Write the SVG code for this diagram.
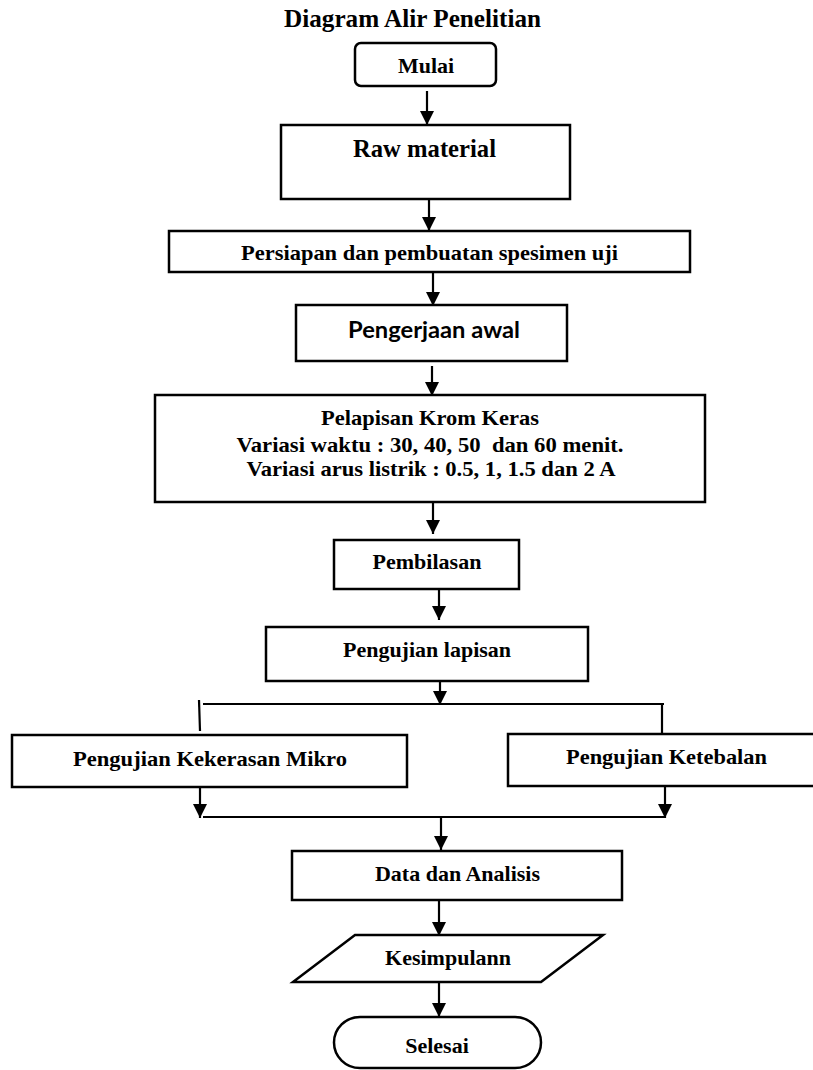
<svg xmlns="http://www.w3.org/2000/svg" width="813" height="1070" viewBox="0 0 813 1070">
<style>
  .box{fill:#fff;stroke:#000;stroke-width:2.5}
  .ln{fill:none;stroke:#000;stroke-width:2.2}
  .t{font-family:"Liberation Serif","Times New Roman",serif;font-weight:bold;font-size:22px;fill:#000;text-anchor:middle;white-space:pre}
  .s{font-family:Lato,"Open Sans","Liberation Sans",sans-serif;font-weight:bold;font-size:22px;fill:#000;text-anchor:middle}
</style>
<defs>
  <marker id="ah" markerUnits="userSpaceOnUse" markerWidth="14" markerHeight="14" viewBox="0 0 14 14" refX="14" refY="7" orient="auto">
    <path d="M0,0 L14,7 L0,14 Z" fill="#000"/>
  </marker>
</defs>
<rect width="813" height="1070" fill="#fff"/>
<g id="title"><text class="t" x="412.5" y="27" style="font-size:25px" textLength="257" lengthAdjust="spacingAndGlyphs">Diagram Alir Penelitian</text></g>

<g id="connectors">
  <line class="ln" x1="427" y1="91" x2="427" y2="125" marker-end="url(#ah)"/>
  <line class="ln" x1="429" y1="199" x2="429" y2="231" marker-end="url(#ah)"/>
  <line class="ln" x1="433" y1="272" x2="433" y2="306" marker-end="url(#ah)"/>
  <line class="ln" x1="432" y1="366" x2="432" y2="396" marker-end="url(#ah)"/>
  <line class="ln" x1="433" y1="502" x2="433" y2="534" marker-end="url(#ah)"/>
  <line class="ln" x1="439" y1="587" x2="439" y2="620" marker-end="url(#ah)"/>
  <line class="ln" x1="440" y1="681" x2="440" y2="705" marker-end="url(#ah)"/>
  <line class="ln" x1="203" y1="704" x2="664" y2="704"/>
  <line class="ln" x1="199" y1="700" x2="200" y2="731"/>
  <line class="ln" x1="662" y1="704" x2="662" y2="733"/>
  <line class="ln" x1="200" y1="787" x2="200" y2="818" marker-end="url(#ah)"/>
  <line class="ln" x1="665" y1="786" x2="665" y2="818" marker-end="url(#ah)"/>
  <line class="ln" x1="203" y1="817" x2="665" y2="817"/>
  <line class="ln" x1="441" y1="817" x2="441" y2="850" marker-end="url(#ah)"/>
  <line class="ln" x1="439" y1="900" x2="439" y2="936" marker-end="url(#ah)"/>
  <line class="ln" x1="439" y1="982" x2="439" y2="1017" marker-end="url(#ah)"/>
</g>

<g id="mulai">
  <rect class="box" x="355" y="43" width="141" height="43" rx="6"/>
  <text class="t" x="426" y="73">Mulai</text>
</g>
<g id="raw">
  <rect class="box" x="281" y="125" width="289" height="74"/>
  <text class="t" x="424.5" y="157" style="font-size:24.5px" textLength="143" lengthAdjust="spacingAndGlyphs">Raw material</text>
</g>
<g id="persiapan">
  <rect class="box" x="169" y="231" width="521" height="41"/>
  <text class="t" x="429.5" y="260" textLength="377" lengthAdjust="spacingAndGlyphs">Persiapan dan pembuatan spesimen uji</text>
</g>
<g id="pengerjaan">
  <rect class="box" x="296" y="305" width="271" height="56"/>
  <text class="s" x="434" y="338" textLength="172" lengthAdjust="spacingAndGlyphs">Pengerjaan awal</text>
</g>
<g id="pelapisan">
  <rect class="box" x="155" y="395" width="550" height="107"/>
  <text class="t" x="430" y="425" textLength="218" lengthAdjust="spacingAndGlyphs">Pelapisan Krom Keras</text>
  <text class="t" x="430" y="452" textLength="387" lengthAdjust="spacingAndGlyphs" xml:space="preserve">Variasi waktu : 30, 40, 50  dan 60 menit.</text>
  <text class="t" x="431" y="476" textLength="369" lengthAdjust="spacingAndGlyphs">Variasi arus listrik : 0.5, 1, 1.5 dan 2 A</text>
</g>
<g id="pembilasan">
  <rect class="box" x="334" y="540" width="185" height="49"/>
  <text class="t" x="427" y="569">Pembilasan</text>
</g>
<g id="pengujian-lapisan">
  <rect class="box" x="266" y="627" width="322" height="54"/>
  <text class="t" x="427" y="657">Pengujian lapisan</text>
</g>
<g id="kekerasan">
  <rect class="box" x="12" y="735" width="395" height="52"/>
  <text class="t" x="210" y="766" textLength="274" lengthAdjust="spacingAndGlyphs">Pengujian Kekerasan Mikro</text>
</g>
<g id="ketebalan">
  <rect class="box" x="508" y="734" width="310" height="52"/>
  <text class="t" x="666.5" y="764" textLength="201" lengthAdjust="spacingAndGlyphs">Pengujian Ketebalan</text>
</g>
<g id="data">
  <rect class="box" x="292" y="851" width="330" height="49"/>
  <text class="t" x="457.5" y="881">Data dan Analisis</text>
</g>
<g id="kesimpulan">
  <polygon class="box" points="355,935 603,935 541,982 293,982"/>
  <text class="t" x="448" y="965">Kesimpulann</text>
</g>
<g id="selesai">
  <rect class="box" x="334" y="1017" width="207" height="51" rx="26" ry="25.5"/>
  <text class="t" x="437" y="1053">Selesai</text>
</g>
</svg>
